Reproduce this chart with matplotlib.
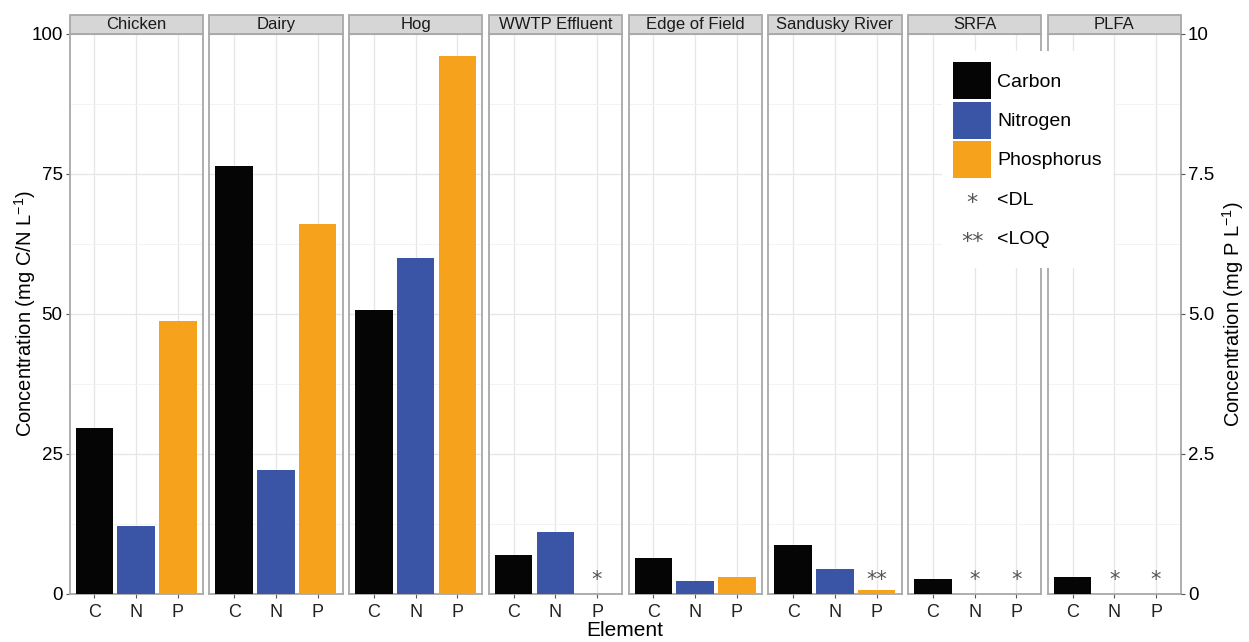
"""Faceted C/N/P concentration bars with a secondary phosphorus axis: out.png."""

import matplotlib.pyplot as plt
import matplotlib.ticker as ticker
from matplotlib.legend_handler import HandlerBase
from matplotlib.patches import Patch, Rectangle
from matplotlib.text import Text

plt.rcParams["font.family"] = ["Liberation Sans", "DejaVu Sans"]

# ── Data ──────────────────────────────────────────────────────────────
SOURCES = ["Chicken", "Dairy", "Hog", "WWTP Effluent", "Edge of Field",
           "Sandusky River", "SRFA", "PLFA"]
ELEMENTS = ["C", "N", "P"]
CARBON_MG_L = [29.6, 76.4, 50.8, 7.0, 6.4, 8.8, 2.6, 3.0]
NITROGEN_MG_L = [12.1, 22.2, 60.0, 11.0, 2.4, 4.4, 0.0, 0.0]
PHOSPHORUS_MG_L = [4.87, 6.60, 9.60, 0.02, 0.31, 0.07, 0.0, 0.0]
# (source, element, flag) for values below detection / quantification
FLAGS = [("WWTP Effluent", "P", "*"), ("Sandusky River", "P", "**"),
         ("SRFA", "N", "*"), ("SRFA", "P", "*"),
         ("PLFA", "N", "*"), ("PLFA", "P", "*")]

LEFT_TICKS = [0, 25, 50, 75, 100]
RIGHT_TICKS = [0, 2.5, 5.0, 7.5, 10]
RIGHT_TICK_LABELS = ["0", "2.5", "5.0", "7.5", "10"]

LEFT_MAX = 100.0
RIGHT_MAX = 10.0
P_SCALE = LEFT_MAX / RIGHT_MAX

COLORS = {"C": "#050505", "N": "#3a55a6", "P": "#f6a21c"}
NAMES = {"C": "Carbon", "N": "Nitrogen", "P": "Phosphorus"}
BORDER = "#a8a8a8"
STRIP_FILL = "#d6d6d6"
FLAG_COLOR = "#555555"


class Note:
    def __init__(self, mark):
        self.mark = mark


class HandlerNote(HandlerBase):
    def create_artists(self, legend, orig_handle, xdescent, ydescent,
                       width, height, fontsize, trans):
        t = Text(-xdescent + width / 2, -ydescent + height / 2 - 3,
                 orig_handle.mark, ha="center", va="center",
                 fontsize=fontsize + 2, color=FLAG_COLOR,
                 family="DejaVu Sans", transform=trans)
        return [t]


W, H = 1249, 642
fig = plt.figure(figsize=(W / 100, H / 100), dpi=100)

x0_px, x1_px = 69.5, 1181.0
gap_px = 6.5
n = len(SOURCES)
pw_px = (x1_px - x0_px - (n - 1) * gap_px) / n
y_bot_px, y_top_px = 594.0, 34.0
strip_px = 19.0

values = {"C": CARBON_MG_L, "N": NITROGEN_MG_L,
          "P": [p * P_SCALE for p in PHOSPHORUS_MG_L]}

axes = []
for i, src in enumerate(SOURCES):
    left = (x0_px + i * (pw_px + gap_px)) / W
    ax = fig.add_axes([left, (H - y_bot_px) / H, pw_px / W,
                       (y_bot_px - y_top_px) / H])
    axes.append(ax)
    xs = range(1, len(ELEMENTS) + 1)
    heights = [values[e][i] for e in ELEMENTS]
    ax.bar(xs, heights, width=0.9, color=[COLORS[e] for e in ELEMENTS],
           zorder=3)
    ax.set_xlim(0.4, 3.6)
    ax.set_ylim(0, LEFT_MAX)
    ax.set_xticks(list(xs))
    ax.set_xticklabels(ELEMENTS, fontsize=13, color="#222222")
    ax.yaxis.set_major_locator(ticker.FixedLocator(LEFT_TICKS))
    ax.yaxis.set_minor_locator(ticker.MultipleLocator(12.5))
    ax.grid(True, which="major", color="#e6e6e6", linewidth=0.9, zorder=0)
    ax.grid(True, which="minor", axis="y", color="#f3f3f3", linewidth=0.7,
            zorder=0)
    ax.tick_params(axis="x", length=3, width=0.8, color="#555555", pad=4)
    ax.tick_params(axis="y", which="minor", length=0)
    if i == 0:
        ax.set_yticklabels([str(t) for t in LEFT_TICKS], fontsize=13.5)
        ax.tick_params(axis="y", length=3, width=0.8, color="#555555", pad=2)
    else:
        ax.tick_params(axis="y", which="major", length=0, labelleft=False)
    for s in ax.spines.values():
        s.set_color(BORDER)
        s.set_linewidth(1.3)

    # facet strip
    sh = strip_px / (y_bot_px - y_top_px)
    ax.add_patch(Rectangle((0, 1), 1, sh, transform=ax.transAxes,
                           facecolor=STRIP_FILL, edgecolor=BORDER,
                           linewidth=1.3, clip_on=False, zorder=5))
    ax.text(0.5, 1 + sh / 2, src, transform=ax.transAxes, ha="center",
            va="center", fontsize=12, color="#1a1a1a", zorder=6)

# detection-limit flags
for src, el, mark in FLAGS:
    ax = axes[SOURCES.index(src)]
    ax.text(ELEMENTS.index(el) + 1, 1.5, mark, ha="center", va="baseline",
            fontsize=15, color=FLAG_COLOR, family="DejaVu Sans", zorder=4)

# right-hand phosphorus axis
axr = axes[-1].twinx()
axr.set_ylim(0, RIGHT_MAX)
axr.set_yticks(RIGHT_TICKS)
axr.set_yticklabels(RIGHT_TICK_LABELS, fontsize=13.5)
axr.tick_params(axis="y", length=3, width=0.8, color="#555555", pad=2)
for s in axr.spines.values():
    s.set_visible(False)
axr.set_ylabel(r"Concentration (mg P L$^{\mathregular{-1}}$)", fontsize=14.5,
               va="center")
axr.yaxis.set_label_coords(1 + (1233 - x1_px) / pw_px, 0.5)

axes[0].set_ylabel(r"Concentration (mg C/N L$^{\mathregular{-1}}$)",
                   fontsize=14.5, va="center")
axes[0].yaxis.set_label_coords((25 - x0_px) / pw_px, 0.5)
fig.text((x0_px + x1_px) / 2 / W, 1 - 630 / H, "Element", ha="center",
         va="center", fontsize=15)

# legend
handles = [Patch(facecolor=COLORS[e]) for e in ELEMENTS] + \
    [Note("*"), Note("**")]
labels = [NAMES[e] for e in ELEMENTS] + ["<DL", "<LOQ"]
leg = fig.legend(handles, labels, loc="upper left",
                 bbox_to_anchor=(932 / W, 1 - 41 / H),
                 handler_map={Note: HandlerNote()}, fontsize=14,
                 handlelength=1.95, handleheight=2.55, handletextpad=0.3,
                 labelspacing=0.12, borderpad=0.6, frameon=True,
                 fancybox=False, framealpha=1.0)
leg.get_frame().set_edgecolor("none")
leg.get_frame().set_facecolor("white")

fig.savefig("out.png", dpi=100)
